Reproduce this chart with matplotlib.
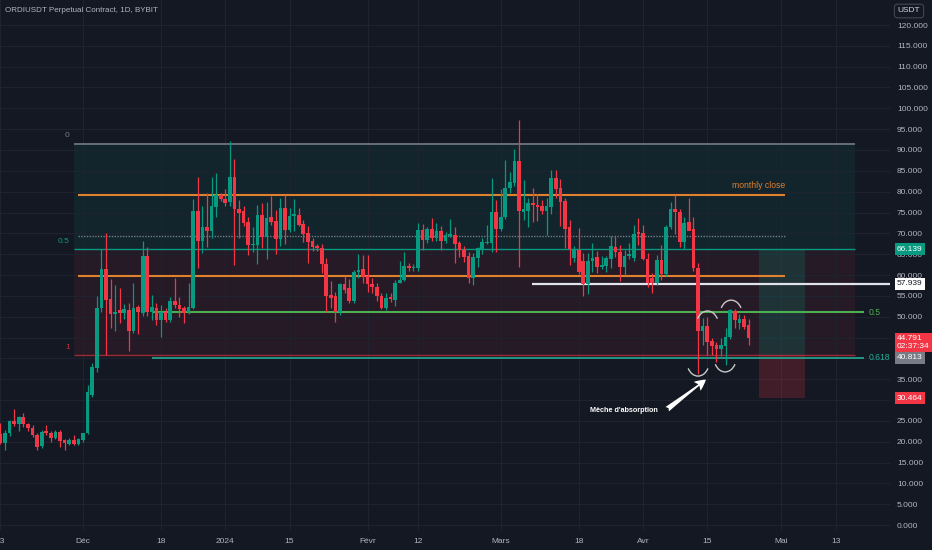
import matplotlib
matplotlib.use('Agg')
import matplotlib.pyplot as plt
import matplotlib.dates as mdates
import matplotlib.transforms as mtransforms
from matplotlib import font_manager
from matplotlib.patches import Rectangle, Arc
import numpy as np
import pandas as pd

# narrow-ish font like the TradingView screenshot, whichever is installed
installed = {f.name for f in font_manager.fontManager.ttflist}
for fam in ['Liberation Sans Narrow', 'Liberation Sans', 'DejaVu Sans']:
    if fam in installed:
        break
plt.rcParams['font.family'] = [fam, 'DejaVu Sans']

# daily candles ORDIUSDT, 13 Nov 2023 -> 24 Apr 2024
start_date = '2023-11-13'
opens = [
    # nov
    21.8, 19.7, 22.0, 25.0, 24.2, 25.8, 24.2, 23.2, 21.6, 19.0, 22.5, 22.1, 21.0, 22.4, 20.4, 19.5, 20.3, 19.5,
    # dec
    20.4, 22.0, 31.2, 37.8, 52.2, 61.4, 54.2, 50.6, 51.5, 50.9, 51.6, 46.6, 52.2, 50.8, 64.6, 51.2,
    52.2, 49.2, 51.2, 49.2, 53.8, 52.8, 52.0, 51.2, 52.2, 75.4, 68.2, 71.4, 70.6, 76.4, 79.2,
    # jan
    78.2, 77.4, 83.4, 75.8, 75.4, 72.6, 67.2, 67.2, 74.4, 69.2, 73.8, 73.0, 68.6, 76.0, 70.8, 74.2,
    74.4, 72.2, 70.0, 68.2, 66.9, 66.4, 62.6, 55.2, 55.0, 51.2, 57.8, 56.8, 53.8, 60.8, 61.4,
    # feb
    59.8, 57.8, 57.2, 55.0, 52.2, 54.6, 54.0, 58.2, 58.8, 62.2, 61.6, 61.6, 70.8, 68.4, 71.0,
    68.8, 70.6, 68.2, 69.4, 69.6, 67.6, 66.0, 64.6, 59.2, 64.0, 66.2, 67.6, 67.6, 75.2,
    # mar
    71.0, 74.0, 80.8, 82.0, 87.4, 75.2, 75.4, 77.2, 76.8, 76.6, 75.4, 76.4, 83.2, 80.8, 77.8, 71.4,
    64.0, 66.0, 63.4, 57.8, 63.4, 64.4, 62.0, 62.2, 63.8, 66.8, 65.6, 61.9, 64.6, 64.0, 70.4,
    # apr
    70.2, 63.8, 59.2, 58.0, 63.6, 60.2, 71.4, 75.8, 75.2, 68.0, 72.6, 71.0, 61.6, 46.6, 47.8, 44.2,
    43.2, 42.2, 43.0, 45.2, 51.4, 48.6, 49.4, 48.0,
]
highs = [
    24.5, 22.8, 25.3, 27.8, 26.2, 26.9, 24.6, 24.0, 22.0, 22.7, 24.0, 22.6, 22.8, 22.8, 20.6, 20.8, 21.5, 20.9,
    22.2, 33.6, 38.8, 55.0, 66.2, 70.0, 59.0, 57.5, 56.8, 53.0, 53.2, 58.0, 52.8, 68.2, 66.8, 55.2,
    53.4, 52.8, 52.2, 54.8, 59.4, 54.8, 52.6, 58.2, 78.3, 83.4, 76.6, 79.8, 83.4, 84.4, 79.6,
    80.6, 92.2, 87.8, 78.0, 76.6, 74.0, 71.6, 76.8, 77.2, 77.4, 79.0, 75.6, 78.6, 79.2, 76.0, 78.2,
    76.0, 73.2, 71.8, 68.8, 67.4, 67.4, 64.0, 58.6, 56.0, 58.2, 59.8, 59.0, 61.2, 65.0, 64.8,
    64.8, 59.2, 58.0, 55.6, 55.6, 55.6, 58.8, 63.4, 65.4, 62.8, 62.6, 72.5, 72.2, 71.6, 73.8,
    72.4, 71.8, 70.4, 73.4, 71.4, 68.2, 67.0, 65.6, 65.2, 66.8, 69.0, 72.0, 83.2, 78.0,
    80.6, 87.6, 84.8, 90.2, 97.2, 82.8, 78.6, 80.8, 79.4, 78.0, 78.6, 85.2, 85.2, 83.0, 78.4, 73.2,
    67.0, 71.2, 65.2, 65.2, 67.6, 65.8, 64.6, 64.6, 69.4, 69.4, 67.2, 66.0, 67.6, 72.0, 73.6,
    72.0, 65.2, 60.4, 64.8, 67.2, 72.0, 77.6, 79.2, 75.8, 74.0, 78.4, 74.0, 62.8, 49.6, 50.0, 44.8,
    44.0, 45.0, 47.2, 51.8, 51.8, 50.6, 50.4, 49.4,
]
lows = [
    19.4, 18.0, 21.3, 23.8, 22.6, 23.5, 22.6, 21.2, 18.0, 18.6, 21.5, 20.0, 20.6, 18.8, 18.0, 19.2, 19.2, 19.2,
    20.0, 21.8, 30.8, 36.8, 51.2, 40.8, 47.2, 46.6, 48.5, 49.5, 41.8, 46.0, 45.8, 50.2, 50.2, 49.2,
    48.0, 45.2, 48.8, 48.8, 52.0, 50.0, 48.5, 50.6, 51.8, 61.6, 65.2, 66.8, 69.0, 74.0, 77.8,
    76.6, 76.6, 62.4, 69.0, 71.8, 64.8, 65.4, 62.6, 66.4, 63.8, 72.0, 65.0, 67.0, 67.4, 70.2, 70.6,
    71.8, 68.0, 62.8, 65.8, 65.8, 60.4, 51.2, 52.0, 48.8, 50.5, 55.8, 53.2, 53.4, 59.2, 58.2,
    56.0, 55.8, 53.8, 51.8, 51.6, 53.6, 52.6, 58.0, 58.6, 61.0, 61.0, 61.0, 66.0, 67.6, 68.2,
    68.2, 66.0, 67.8, 69.2, 62.8, 64.4, 63.2, 58.0, 57.6, 62.0, 65.0, 67.4, 65.6, 65.4,
    70.6, 73.4, 79.8, 81.4, 62.0, 73.2, 71.4, 72.8, 73.0, 74.6, 69.6, 74.6, 78.4, 71.8, 66.6, 62.4,
    63.2, 60.2, 55.0, 55.5, 60.8, 60.6, 61.4, 60.8, 61.8, 64.2, 58.6, 60.0, 63.8, 63.4, 67.2,
    63.6, 57.2, 55.6, 57.6, 58.8, 59.8, 71.0, 69.8, 66.8, 66.2, 71.0, 61.0, 36.2, 43.2, 40.8, 40.8,
    39.2, 40.6, 38.4, 44.6, 47.2, 47.0, 47.0, 43.2,
]
closes = [
    19.7, 22.1, 25.0, 24.2, 25.8, 24.2, 23.2, 21.6, 18.8, 22.4, 22.0, 21.0, 22.4, 20.2, 19.6, 20.3, 19.5, 20.6,
    22.0, 32.0, 38.0, 52.2, 61.4, 54.0, 50.6, 51.2, 50.9, 51.9, 46.6, 52.2, 51.2, 64.6, 51.2, 52.2,
    49.2, 51.2, 49.2, 53.8, 52.8, 51.8, 51.0, 52.2, 75.4, 68.2, 71.4, 70.6, 76.6, 79.2, 78.2,
    77.2, 83.4, 75.8, 75.0, 72.4, 67.2, 67.4, 74.4, 69.2, 73.8, 72.8, 68.6, 76.0, 70.8, 74.2, 74.6,
    72.0, 69.8, 68.0, 66.8, 66.4, 62.6, 55.0, 54.6, 51.2, 57.8, 56.4, 53.8, 60.8, 61.2, 59.6,
    57.8, 57.2, 55.0, 52.2, 54.4, 54.2, 58.2, 58.8, 62.2, 61.6, 61.9, 70.8, 68.4, 71.0, 68.8,
    70.6, 68.2, 69.6, 69.8, 67.4, 66.0, 64.4, 59.2, 64.4, 66.4, 67.8, 68.0, 75.2, 71.0,
    74.0, 80.8, 82.2, 87.4, 75.4, 75.8, 77.2, 76.8, 76.2, 75.4, 76.6, 83.2, 80.6, 77.6, 71.0, 66.2,
    66.0, 60.8, 57.8, 63.4, 64.0, 62.0, 62.4, 64.2, 67.0, 65.4, 61.9, 64.6, 65.0, 69.8, 69.8,
    63.8, 58.0, 58.0, 63.6, 60.2, 71.6, 75.8, 75.2, 68.0, 72.6, 70.6, 61.6, 46.6, 47.8, 44.0, 43.0,
    42.2, 43.2, 45.2, 51.6, 49.2, 49.4, 47.6, 44.791,
]

# drawings
fib_0, fib_1 = 91.465, 40.813
fib_mid = (fib_0 + fib_1) / 2
monthly_close_hi, monthly_close_lo = 79.2, 59.8
dotted_level = 69.4
green_level, teal_level = 51.05, 40.15
white_level = 57.939
target, stop = 66.139, 30.464
last_price, countdown = 44.791, '02:37:34'

tick_dates = ['2023-11-13', '2023-12-01', '2023-12-18', '2024-01-01', '2024-01-15', '2024-02-01',
              '2024-02-12', '2024-03-01', '2024-03-18', '2024-04-01', '2024-04-15', '2024-05-01', '2024-05-13']
tick_labels = ['13', 'Déc', '18', '2024', '15', 'Févr', '12', 'Mars', '18', 'Avr', '15', 'Mai', '13']
price_ticks = list(range(0, 121, 5))

BG = '#141823'
GRID = '#1f2330'
TXT = '#b2b5be'
GREEN = '#089981'
RED = '#f23645'
FS = 6.0

o = np.array(opens); h = np.array(highs); l = np.array(lows); c = np.array(closes)
days = pd.date_range(start_date, periods=len(c))
x = mdates.date2num(days)
d0 = mdates.date2num(pd.Timestamp('2023-12-01'))
px_day = 4.59

fig = plt.figure(figsize=(9.32, 5.5), dpi=100, facecolor=BG)
ax = fig.add_axes([0, 20 / 550, 890 / 932, 530 / 550])
ax.set_facecolor(BG)
ax.set_xlim(d0 - 83 / px_day, d0 + (890 - 83) / px_day)
ax.set_ylim(-1.2, 126.0)

# fib zones
fib_l, fib_r = d0 - 1.96, d0 + 168.2
ax.add_patch(Rectangle((fib_l, fib_mid), fib_r - fib_l, fib_0 - fib_mid, color=GREEN, alpha=0.1, lw=0, zorder=0.5))
ax.add_patch(Rectangle((fib_l, fib_1), fib_r - fib_l, fib_mid - fib_1, color=RED, alpha=0.08, lw=0, zorder=0.5))
ax.hlines(fib_0, fib_l, fib_r, color='#787b86', lw=1.2, zorder=1)
ax.hlines(fib_mid, fib_l, fib_r, color=GREEN, lw=1.0, zorder=1)
ax.hlines(fib_1, fib_l, fib_r, color=RED, alpha=0.6, lw=1.0, zorder=1)
ax.text(fib_l - 0.9, fib_0 + 1.2, '0', color='#787b86', fontsize=FS, ha='right', va='bottom')
ax.text(fib_l - 0.9, fib_mid + 1.0, '0.5', color=GREEN, fontsize=FS, ha='right', va='bottom')
ax.text(fib_l - 0.9, fib_1 + 1.0, '1', color=RED, alpha=0.8, fontsize=FS, ha='right', va='bottom')

# long position box
pos_l, pos_r = d0 + 147.3, d0 + 157.3
ax.add_patch(Rectangle((pos_l, fib_1), pos_r - pos_l, target - fib_1, color=GREEN, alpha=0.2, lw=0, zorder=0.6))
ax.add_patch(Rectangle((pos_l, stop), pos_r - pos_l, fib_1 - stop, color=RED, alpha=0.2, lw=0, zorder=0.6))

# horizontal levels
hl_l, hl_r = d0 - 1.1, d0 + 152.9
ax.hlines([monthly_close_hi, monthly_close_lo], hl_l, hl_r, color='#e0812f', lw=1.5, zorder=1.5)
ax.hlines(dotted_level, hl_l, hl_r, color='#787b86', lw=1.0, ls=(0, (1, 1)), zorder=1.5)
ax.text(hl_r, monthly_close_hi + 1.2, 'monthly close', color='#e0812f', fontsize=6.2, ha='right', va='bottom')

lv_l, lv_r = d0 + 15.0, d0 + 170.2
ax.hlines(green_level, lv_l, lv_r, color='#4caf50', lw=1.5, zorder=1.5, clip_on=False)
ax.hlines(teal_level, lv_l, lv_r, color='#22ab94', lw=1.2, zorder=1.5, clip_on=False)
ax.text(lv_r + 0.9, green_level, '0.5', color='#4caf50', fontsize=6.2, va='center')
ax.text(lv_r + 0.9, teal_level, '0.618', color='#22ab94', fontsize=6.2, va='center')

ax.hlines(white_level, d0 + 97.8, ax.get_xlim()[1], color='#e0e3eb', lw=1.6, zorder=1.5)

# candles
up = c >= o
col = np.where(up, GREEN, RED)
ax.vlines(x, l, h, colors=col, lw=0.9, zorder=2)
body = np.maximum(np.abs(c - o), 0.3)
ax.bar(x, body, bottom=np.minimum(o, c), width=0.8, color=col, lw=0, zorder=2.1)

# wick annotation
arc_kw = dict(color='#c8c8c8', lw=1.0, zorder=3)
aw, ah = 22 / px_day, 28 / 4.1667
ax.add_patch(Arc((d0 + 136.05, 48.0), aw, ah, theta1=35, theta2=145, **arc_kw))
ax.add_patch(Arc((d0 + 141.2, 50.6), aw, ah, theta1=35, theta2=145, **arc_kw))
ax.add_patch(Arc((d0 + 134.0, 39.1), aw, ah, theta1=215, theta2=325, **arc_kw))
ax.add_patch(Arc((d0 + 139.9, 40.1), aw, ah, theta1=215, theta2=325, **arc_kw))
ax.annotate('', xy=(d0 + 136.2, 35.3), xytext=(d0 + 126.8, 27.4),
            arrowprops=dict(arrowstyle='fancy,head_length=0.8,head_width=0.8,tail_width=0.4',
                            color='white', lw=0), zorder=3)
ax.text(d0 + 125.3, 27.4, "Mèche d'absorption", color='white', fontsize=5.2, fontweight='bold',
        ha='right', va='center')

# axes styling
for s in ax.spines.values():
    s.set_visible(False)
ax.set_xticks(mdates.date2num(pd.to_datetime(tick_dates)))
ax.set_xticklabels(tick_labels)
ax.set_yticks(price_ticks)
ax.set_yticklabels([f'{v:.3f}' for v in price_ticks])
ax.yaxis.tick_right()
ax.tick_params(axis='both', length=0, colors=TXT, labelsize=FS)
ax.tick_params(axis='x', pad=6)
ax.tick_params(axis='y', pad=5)
ax.grid(True, color=GRID, lw=0.8, zorder=0)
ax.set_axisbelow(True)

# price scale labels
tr = mtransforms.blended_transform_factory(fig.transFigure, ax.transData)
lx = 897 / 932
box = dict(boxstyle='square,pad=0.3', lw=0)
ax.text(lx, target, f'{target:.3f}', transform=tr, fontsize=FS, color='white', va='center',
        bbox=dict(box, fc=GREEN), clip_on=False, zorder=5)
ax.text(lx, white_level, f'{white_level:.3f}', transform=tr, fontsize=FS, color='#131722', va='center',
        bbox=dict(box, fc='white'), clip_on=False, zorder=5)
ax.text(lx, 43.8, f'{last_price:.3f}\n{countdown}', transform=tr, fontsize=FS, color='white', va='center',
        linespacing=1.1, bbox=dict(box, fc=RED), clip_on=False, zorder=5)
ax.text(lx, 40.2, f'{fib_1:.3f}', transform=tr, fontsize=FS, color='white', va='center',
        bbox=dict(box, fc='#787b86'), clip_on=False, zorder=5)
ax.text(lx, stop, f'{stop:.3f}', transform=tr, fontsize=FS, color='white', va='center',
        bbox=dict(box, fc=RED), clip_on=False, zorder=5)

fig.text(909 / 932, 1 - 11 / 550, 'USDT', color='#d1d4dc', fontsize=FS, ha='center', va='center',
         bbox=dict(boxstyle='round,pad=0.4', fc=BG, ec='#434651', lw=0.8))
fig.text(5 / 932, 1 - 10 / 550, 'ORDIUSDT Perpetual Contract, 1D, BYBIT', color=TXT, fontsize=5.8,
         ha='left', va='center')

fig.savefig('out.png', dpi=100, facecolor=BG)
